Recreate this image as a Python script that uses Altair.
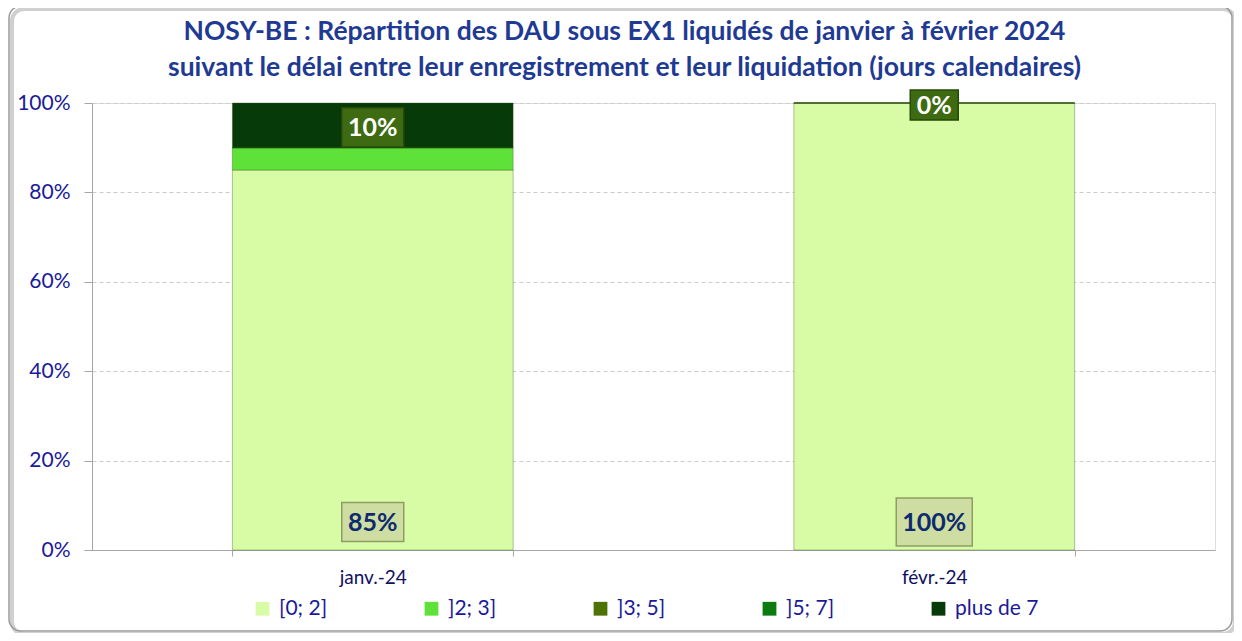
import altair as alt
import pandas as pd

categories = ["janv.-24", "févr.-24"]
series = ["[0; 2]", "]2; 3]", "]3; 5]", "]5; 7]", "plus de 7"]
v_0_2 = [0.85, 1.00]
v_2_3 = [0.05, 0.00]
v_3_5 = [0.00, 0.00]
v_5_7 = [0.00, 0.00]
v_plus_7 = [0.10, 0.00]
colors = ["#D8FCA6", "#5EE23A", "#4D7304", "#0B7A10", "#063A08"]

title_lines = [
    "NOSY-BE : Répartition des DAU sous EX1 liquidés de janvier à février 2024",
    "suivant le délai entre leur enregistrement et leur liquidation (jours calendaires)",
]

FONT = "Lato"
NAVY = "#1A1A99"

series_values = [v_0_2, v_2_3, v_3_5, v_5_7, v_plus_7]
rows = []
for ci, cat in enumerate(categories):
    cum = 0.0
    for si, s in enumerate(series):
        v = series_values[si][ci]
        rows.append(dict(cat=cat, serie=s, idx=si, value=v, y0=cum, y1=cum + v,
                         mid=cum + v / 2, label=f"{round(v * 100)}%"))
        cum += v
df = pd.DataFrame(rows)

W, H = 1123, 447

xenc = alt.X("cat:N", sort=categories,
             scale=alt.Scale(paddingInner=0.5, paddingOuter=0.25),
             axis=alt.Axis(title=None, labelAngle=0, labelColor="#101060", labelFontSize=19,
                           labelFont=FONT, tickBand="extent", tickSize=6, tickColor="#A6A6A6",
                           domainColor="#A6A6A6", labelPadding=12, grid=False))

frame_df = pd.DataFrame({"k": [0]})
shadow = alt.Chart(frame_df).mark_rect(cornerRadius=12, fill="white", fillOpacity=0,
                                       stroke="#D0D0D0", strokeWidth=4).encode(
    x=alt.value(-80), x2=alt.value(W + 20), y=alt.value(-94), y2=alt.value(H + 84))
frame = alt.Chart(frame_df).mark_rect(cornerRadius=12, fill="white", fillOpacity=0,
                                      stroke="#9A9A9A", strokeWidth=1.5).encode(
    x=alt.value(-83), x2=alt.value(W + 17), y=alt.value(-97), y2=alt.value(H + 81))

title = alt.Chart(frame_df).mark_text(
    text=title_lines, font=FONT, fontSize=26.5, fontWeight="bold", color="#1F3A93",
    lineHeight=36, align="center", baseline="middle").encode(
    x=alt.value(W / 2 - 29), y=alt.value(-71))

bars = alt.Chart(df).mark_bar(stroke="#2F4F10", strokeOpacity=0.35, strokeWidth=1).encode(
    x=xenc,
    y=alt.Y("y0:Q", scale=alt.Scale(domain=[0, 1]),
            axis=alt.Axis(title=None, format="%", values=[0, 0.2, 0.4, 0.6, 0.8, 1.0],
                          labelColor=NAVY, labelFontSize=21, labelFont=FONT,
                          gridDash=[4, 3], gridColor="#CCCCCC", domainColor="#A6A6A6",
                          tickColor="#A6A6A6", tickSize=8, labelPadding=14)),
    y2="y1:Q",
    color=alt.Color("serie:N", sort=series,
                    scale=alt.Scale(domain=series, range=colors),
                    legend=alt.Legend(title=None, orient="none", legendX=160, legendY=H + 48,
                                      direction="horizontal", columns=5, gridAlign="all",
                                      columnPadding=58, symbolType="square", symbolSize=190,
                                      symbolStrokeWidth=0, labelFontSize=21, labelFont=FONT,
                                      labelColor=NAVY, labelOffset=6)),
)

box_shape = "M-1,-0.63L1,-0.63L1,0.63L-1,0.63Z"

base = df[df.idx == 0]
top = df[df.idx == len(series) - 1]

base_box = alt.Chart(base).transform_calculate(
    sz="pow(14*length(datum.label)+20, 2)").mark_point(
    shape=box_shape, filled=True, fill="#CEDDA2", stroke="#8E9E60", strokeWidth=1.5,
    opacity=1, yOffset=-28).encode(
    x=alt.X("cat:N", sort=categories), y=alt.Y("y0:Q"), size=alt.Size("sz:Q", scale=None))
base_txt = alt.Chart(base).mark_text(font=FONT, fontSize=25, fontWeight="bold",
                                     color="#0F2A6E", yOffset=-27).encode(
    x=alt.X("cat:N", sort=categories), y=alt.Y("y0:Q"), text="label:N")

top_box = alt.Chart(top).transform_calculate(
    sz="pow(14*length(datum.label)+20, 2)").mark_point(
    shape=box_shape, filled=True, fill="#3E6B12", stroke="#274A08", strokeWidth=1.5,
    opacity=1, yOffset=2).encode(
    x=alt.X("cat:N", sort=categories), y=alt.Y("mid:Q"), size=alt.Size("sz:Q", scale=None))
top_txt = alt.Chart(top).mark_text(font=FONT, fontSize=25, fontWeight="bold",
                                   color="white", yOffset=3).encode(
    x=alt.X("cat:N", sort=categories), y=alt.Y("mid:Q"), text="label:N")

chart = alt.layer(shadow, frame, title, bars, base_box, base_txt, top_box, top_txt).properties(
    width=W, height=H,
    autosize=alt.AutoSizeParams(type="none"),
    padding={"left": 84, "top": 95, "right": 19, "bottom": 83},
).configure_view(strokeWidth=0).configure(background="white")

chart.save("out.html", embed_options={"renderer": "svg", "actions": False})
